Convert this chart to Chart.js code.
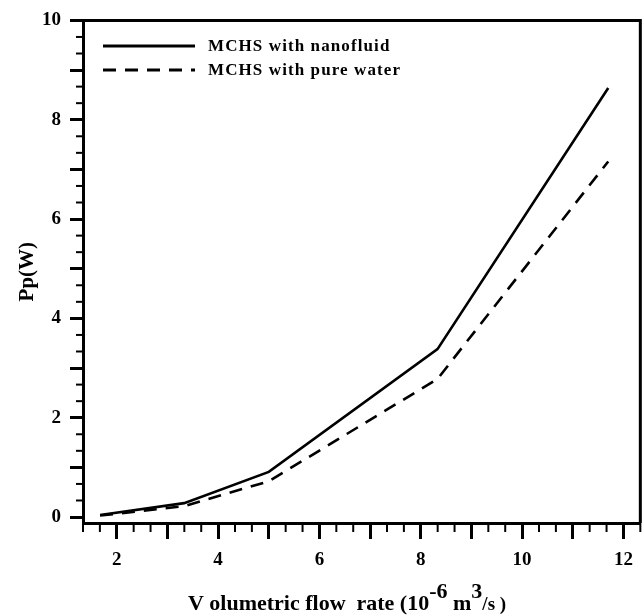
<!DOCTYPE html>
<html lang="en">
<head>
	<meta charset="utf-8">
	<title>Pumping power</title>
	<style>
html, body {
	margin: 0;
	padding: 0;
	background: #fff;
}
#chartWrapper {
	width: 643px;
	height: 615px;
}
	</style>
</head>
<body>

<div id="chartWrapper">
  <canvas id="myChart"></canvas>
</div>

<script src="https://cdn.jsdelivr.net/npm/chart.js"></script>
<script>
// volumetric flow rate, 10^-6 m3/s
const flowRate = [1.67, 3.33, 5.0, 8.33, 11.7];
// pumping power, W
const powerNanofluid = [0.04, 0.28, 0.91, 3.38, 8.64];
const powerWater = [0.03, 0.22, 0.72, 2.78, 7.16];

const seriesNames = ['MCHS with nanofluid', 'MCHS with pure water'];
const xTicks = [2, 3, 4, 5, 6, 7, 8, 9, 10, 11, 12];
const yTicks = [0, 1, 2, 3, 4, 5, 6, 7, 8, 9, 10];

const serif = "'Liberation Serif', 'Times New Roman', serif";

function points(ys) {
	return flowRate.map((x, i) => ({ x: x, y: ys[i] }));
}

// minor ticks every 1/3, box on top/right, legend and axis titles
const decorations = {
	id: 'decorations',
	afterDraw(chart) {
		const ctx = chart.ctx;
		const a = chart.chartArea;
		const xs = chart.scales.x;
		const ys = chart.scales.y;
		ctx.save();
		ctx.strokeStyle = '#000';
		ctx.lineWidth = 2;
		for (let k = 4; k <= 37; k++) {
			if (k % 3 === 0) continue;
			let px = xs.getPixelForValue(k / 3);
			ctx.beginPath();
			ctx.moveTo(px, a.bottom);
			ctx.lineTo(px, a.bottom + 9);
			ctx.stroke();
		}
		for (let k = 1; k <= 30; k++) {
			if (k % 3 === 0) continue;
			let py = ys.getPixelForValue(k / 3);
			ctx.beginPath();
			ctx.moveTo(a.left, py);
			ctx.lineTo(a.left - 7, py);
			ctx.stroke();
		}

		// frame
		ctx.lineWidth = 3;
		ctx.beginPath();
		ctx.moveTo(a.left, a.top);
		ctx.lineTo(a.right, a.top);
		ctx.lineTo(a.right, a.bottom);
		ctx.stroke();

		// legend
		chart.data.datasets.forEach((ds, i) => {
			let y = 46 + i * 24;
			ctx.lineWidth = 3;
			ctx.setLineDash(ds.borderDash || []);
			ctx.beginPath();
			ctx.moveTo(103, y);
			ctx.lineTo(195, y);
			ctx.stroke();
			ctx.setLineDash([]);
			ctx.fillStyle = '#000';
			ctx.font = 'bold 17px ' + serif;
			ctx.letterSpacing = '1.1px';
			ctx.textBaseline = 'middle';
			ctx.textAlign = 'left';
			ctx.fillText(ds.label, 208, y + 1);
		});
		ctx.letterSpacing = '0px';

		// y title
		ctx.save();
		ctx.translate(33, (a.top + a.bottom) / 2);
		ctx.rotate(-Math.PI / 2);
		ctx.font = 'bold 21px ' + serif;
		ctx.textAlign = 'center';
		ctx.textBaseline = 'alphabetic';
		ctx.fillText('Pp(W)', 0, 0);
		ctx.restore();

		// x title with superscripts
		const parts = [
			{ t: 'V olumetric flow  rate (10', size: 22, dy: 0 },
			{ t: '-6', size: 22, dy: -12 },
			{ t: ' m', size: 22, dy: 0 },
			{ t: '3', size: 22, dy: -12 },
			{ t: '/s )', size: 19, dy: 0 }
		];
		let total = 0;
		for (let p of parts) {
			ctx.font = 'bold ' + p.size + 'px ' + serif;
			p.w = ctx.measureText(p.t).width;
			total += p.w;
		}
		let x = 347 - total / 2;
		ctx.textAlign = 'left';
		ctx.textBaseline = 'alphabetic';
		for (let p of parts) {
			ctx.font = 'bold ' + p.size + 'px ' + serif;
			ctx.fillText(p.t, x, 610 + p.dy);
			x += p.w;
		}
		ctx.restore();
	}
};

function init() {
	const ctx = document.getElementById('myChart');

	new Chart(ctx, {
		type: 'line',
		data: {
			datasets: [
				{
					label: seriesNames[0],
					data: points(powerNanofluid),
					borderColor: '#000',
					borderWidth: 2.6,
					pointRadius: 0,
					tension: 0
				},
				{
					label: seriesNames[1],
					data: points(powerWater),
					borderColor: '#000',
					borderWidth: 2.6,
					borderDash: [13, 9],
					pointRadius: 0,
					tension: 0
				}
			]
		},
		options: {
			responsive: true,
			maintainAspectRatio: false,
			animation: false,
			layout: {
				padding: { top: 18, right: 2, left: 0, bottom: 0 }
			},
			plugins: {
				legend: { display: false },
				tooltip: { enabled: false }
			},
			scales: {
				x: {
					type: 'linear',
					min: 4 / 3,
					max: 37 / 3,
					afterBuildTicks: s => { s.ticks = xTicks.map(v => ({ value: v })); },
					afterFit: s => { s.height = 92; },
					border: { color: '#000', width: 3 },
					grid: {
						drawOnChartArea: false,
						drawTicks: true,
						tickLength: 16,
						tickWidth: 3,
						tickColor: '#000'
					},
					ticks: {
						autoSkip: false,
						maxRotation: 0,
						padding: 10,
						color: '#000',
						font: { family: serif, size: 19, weight: 'bold' },
						callback: v => (v % 2 === 0 ? v : '')
					}
				},
				y: {
					type: 'linear',
					min: -0.12,
					max: 10,
					afterBuildTicks: s => { s.ticks = yTicks.map(v => ({ value: v })); },
					afterFit: s => { s.width = 83; },
					border: { color: '#000', width: 3 },
					grid: {
						drawOnChartArea: false,
						drawTicks: true,
						tickLength: 13,
						tickWidth: 3,
						tickColor: '#000'
					},
					ticks: {
						autoSkip: false,
						padding: 9,
						color: '#000',
						font: { family: serif, size: 19, weight: 'bold' },
						callback: v => (v % 2 === 0 ? v : '')
					}
				}
			}
		},
		plugins: [decorations]
	});
}

init();
</script>
</body>
</html>
